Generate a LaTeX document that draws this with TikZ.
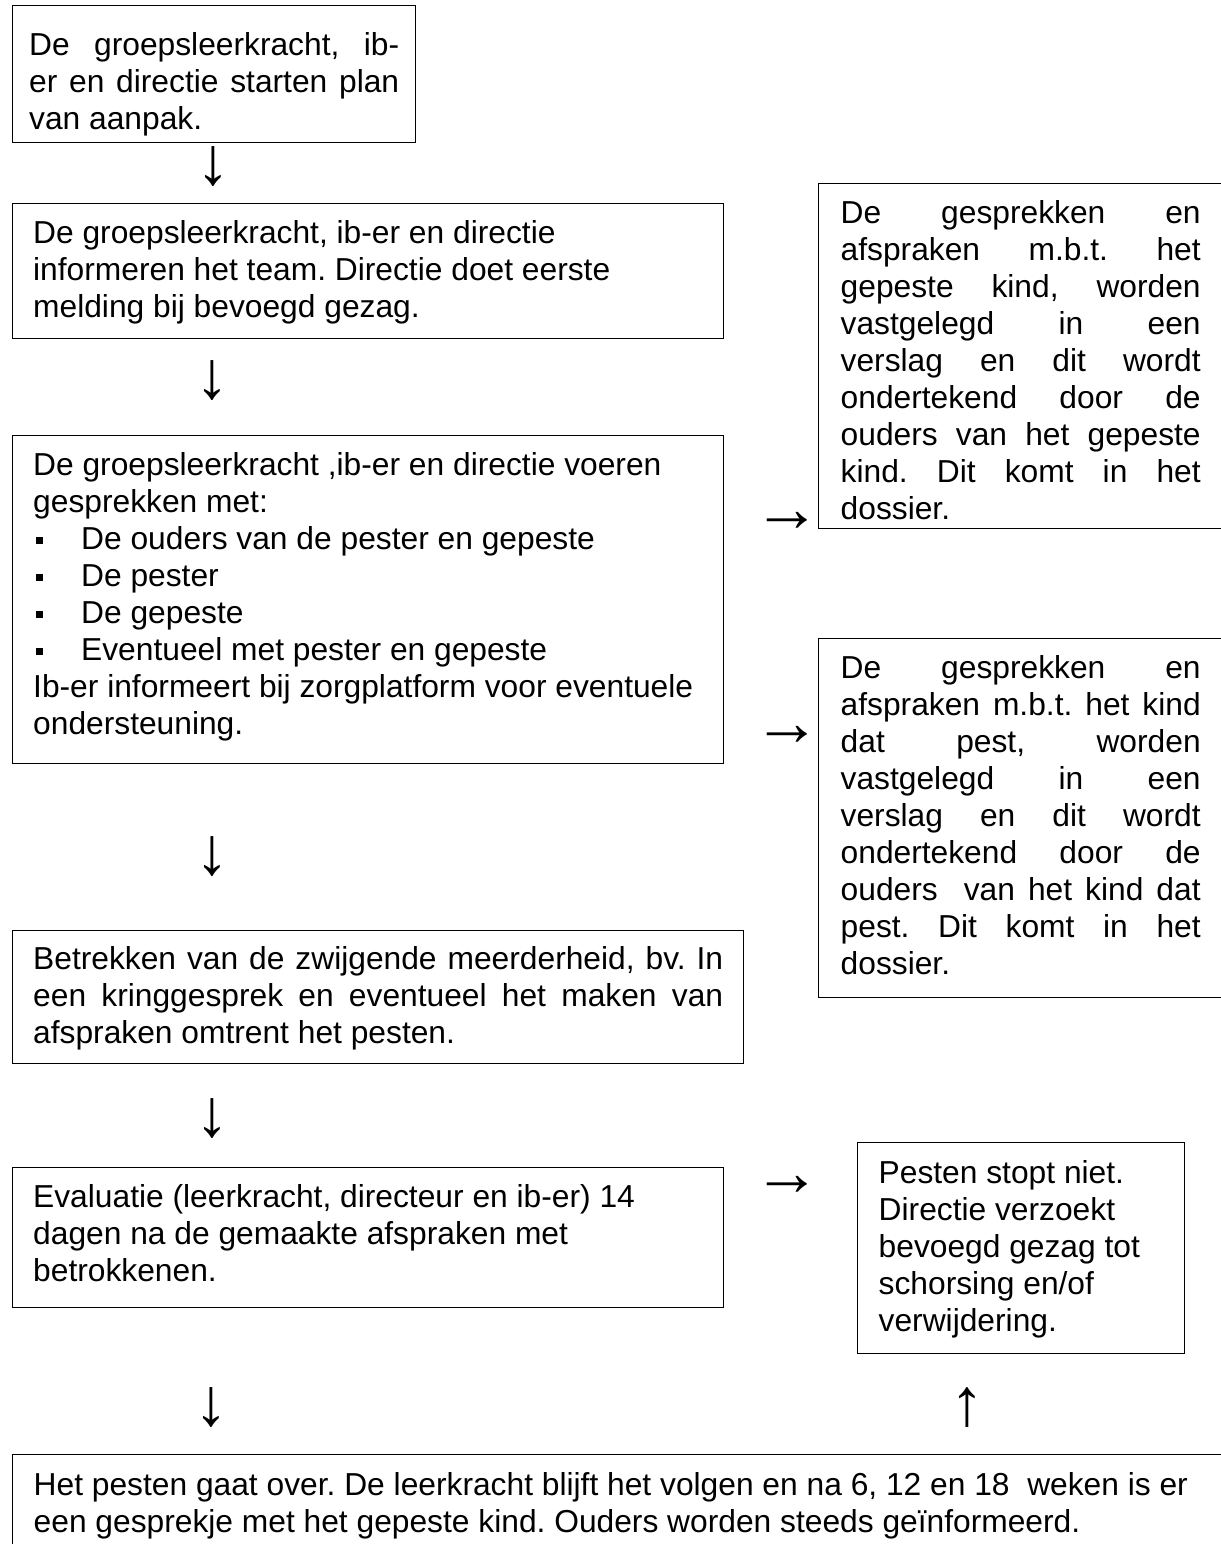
\documentclass[tikz,border=0pt]{standalone}
\usepackage{fontspec}
\setmainfont{Liberation Sans}
\newdimen\pxu
\pxu=0.4pt
\newcommand{\flowtext}[4]{\parbox[t][#2\pxu][t]{#1\pxu}{\fontsize{12.7}{14.8}\selectfont
  \tolerance=10000\hbadness=10000\hyphenpenalty=10000\parindent=0pt\frenchspacing
  \vspace*{#3\pxu}\strut#4}}
\newcommand{\bul}{\makebox[48\pxu][l]{\hspace*{3\pxu}\raisebox{6\pxu}{\rule{7\pxu}{7\pxu}}}}
\begin{document}
\begin{tikzpicture}[x=0.4pt, y=-0.4pt,
		flowbox/.style={draw, line width=0.55pt, inner sep=0pt, anchor=north west},
		arrowsym/.style={inner sep=0pt, font=\fontsize{27}{27}\selectfont\bfseries}]
		\useasboundingbox (0,0) rectangle (1220,1544);
		\fill[white] (0,0) rectangle (1220,1544);
		
		\node[flowbox, minimum width=161.2pt] (start) at (12,5) {\flowtext{370}{137}{24}{De groepsleerkracht, ib-\linebreak er en directie starten plan\linebreak van aanpak.}};
		\node[flowbox, minimum width=284.4pt] (inform) at (12,203) {\flowtext{670}{135}{14}{\raggedright De groepsleerkracht, ib-er en directie\\ informeren het team. Directie doet eerste\\ melding bij bevoegd gezag.}};
		\node[flowbox, minimum width=284.4pt] (talks) at (12,435) {\flowtext{670}{328}{14}{\raggedright De groepsleerkracht ,ib-er en directie voeren\\ gesprekken met:\\ \bul De ouders van de pester en gepeste\\ \bul De pester\\ \bul De gepeste\\ \bul Eventueel met pester en gepeste\\ Ib-er informeert bij zorgplatform voor eventuele\\ ondersteuning.}};
		\node[flowbox, minimum width=292.4pt] (silent) at (12,930) {\flowtext{690}{133}{13}{Betrekken van de zwijgende meerderheid, bv. In\linebreak een kringgesprek en eventueel het maken van\linebreak afspraken omtrent het pesten.}};
		\node[flowbox, minimum width=284.4pt] (eval) at (12,1167) {\flowtext{670}{140}{14}{\raggedright Evaluatie (leerkracht, directeur en ib-er) 14\\ dagen na de gemaakte afspraken met\\ betrokkenen.}};
		\node[flowbox, minimum width=484.8pt] (over) at (12,1454) {\flowtext{1170}{120}{15}{\raggedright Het pesten gaat over. De leerkracht blijft het volgen en na 6, 12 en 18\ \ weken is er\\ een gesprekje met het gepeste kind. Ouders worden steeds geïnformeerd.}};
		
		\node[flowbox, minimum width=161.6pt] (victim) at (818,183) {\flowtext{360}{345}{14}{De gesprekken en\linebreak afspraken m.b.t. het\linebreak gepeste kind, worden\linebreak vastgelegd in een\linebreak verslag en dit wordt\linebreak ondertekend door de\linebreak ouders van het gepeste\linebreak kind. Dit komt in het\linebreak dossier.}};
		\node[flowbox, minimum width=161.6pt] (bully) at (818,638) {\flowtext{360}{359}{14}{De gesprekken en\linebreak afspraken m.b.t. het kind\linebreak dat pest, worden\linebreak vastgelegd in een\linebreak verslag en dit wordt\linebreak ondertekend door de\linebreak ouders\ \ van het kind dat\linebreak pest. Dit komt in het\linebreak dossier.}};
		\node[flowbox, minimum width=130.8pt] (stop) at (857,1142) {\flowtext{285}{211}{15}{\raggedright Pesten stopt niet.\\ Directie verzoekt\\ bevoegd gezag tot\\ schorsing en/of\\ verwijdering.}};
		
		\node[arrowsym] (d1) at (213,167) {↓};
		\node[arrowsym] (d2) at (212,381) {↓};
		\node[arrowsym] (d3) at (212,857) {↓};
		\node[arrowsym] (d4) at (212,1119) {↓};
		\node[arrowsym] (d5) at (211,1408) {↓};
		\node[arrowsym] (r1) at (787,522) {→};
		\node[arrowsym] (r2) at (787,736) {→};
		\node[arrowsym] (r3) at (787,1186) {→};
		\node[arrowsym] (u1) at (967,1408) {↑};
		\end{tikzpicture}
\end{document}
